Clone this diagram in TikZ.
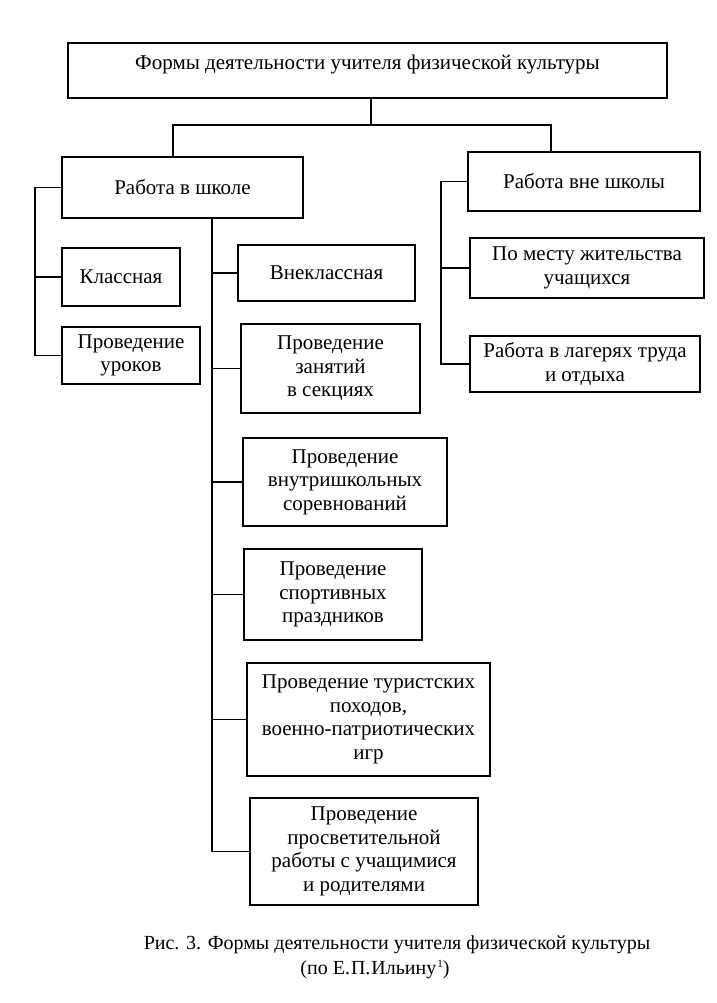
\documentclass[tikz,border=0pt]{standalone}
\usepackage{fontspec}
\setmainfont{Liberation Serif}
\begin{document}
\begin{tikzpicture}[x=1pt,y=-1pt,
  box/.style={draw,line width=2.2pt,inner sep=2pt,align=center,
    font=\fontsize{21}{23.5}\selectfont},
  conn/.style={line width=1.9pt},
  captext/.style={font=\fontsize{20}{23}\selectfont,inner sep=0pt}]
\useasboundingbox[fill=white] (0,0) rectangle (716,1003);
% boxes
\node[box,minimum width=599pt,minimum height=55pt] (top) at (367.5,70.5) {\raisebox{6pt}[\height][\depth]{Формы деятельности учителя физической культуры}};
\node[box,minimum width=241pt,minimum height=61pt] (school) at (182.5,187.5) {Работа в школе};
\node[box,minimum width=232pt,minimum height=59pt] (outside) at (584,181.5) {Работа вне школы};
\node[box,minimum width=118pt,minimum height=58pt] (klass) at (121,277) {Классная};
\node[box,minimum width=138pt,minimum height=57pt] (uroki) at (131,355.5) {Проведение\\уроков};
\node[box,minimum width=177pt,minimum height=56pt] (vneklass) at (326.5,273) {Внеклассная};
\node[box,minimum width=179pt,minimum height=89pt] (sekcii) at (330.5,368.5) {Проведение\\занятий\\в секциях};
\node[box,minimum width=204pt,minimum height=88pt] (sorevn) at (345,482) {Проведение\\внутришкольных\\соревнований};
\node[box,minimum width=178pt,minimum height=91pt] (prazd) at (333,594.5) {Проведение\\спортивных\\праздников};
\node[box,minimum width=243pt,minimum height=113pt] (turist) at (368.5,719.5) {Проведение туристских\\походов,\\военно-патриотических\\игр};
\node[box,minimum width=228pt,minimum height=107pt] (prosv) at (364,851.5) {Проведение\\просветительной\\работы с учащимися\\и родителями};
\node[box,minimum width=234pt,minimum height=60pt] (mesto) at (587,268) {По месту жительства\\учащихся};
\node[box,minimum width=230pt,minimum height=56pt] (lager) at (585,364) {Работа в лагерях труда\\и отдыха};
% helper coordinates
\coordinate (cA) at (371,125);
\coordinate (cL) at (173,125);
\coordinate (cR) at (551,125);
\coordinate (sL) at (35,0);
\coordinate (sM) at (212,0);
\coordinate (sR) at (441,0);
% connectors
\draw[conn] (cA |- top.south) -- (cA);
\draw[conn] (cL |- school.north) -- (cL) -- (cR) -- (cR |- outside.north);
\draw[conn] (school.west) -- (sL |- school.west) -- (sL |- uroki.west) -- (uroki.west);
\draw[conn] (sL |- klass.west) -- (klass.west);
\draw[conn] (sM |- school.south) -- (sM |- prosv.west) -- (prosv.west);
\draw[conn] (sM |- vneklass.west) -- (vneklass.west);
\draw[conn] (sM |- sekcii.west) -- (sekcii.west);
\draw[conn] (sM |- sorevn.west) -- (sorevn.west);
\draw[conn] (sM |- prazd.west) -- (prazd.west);
\draw[conn] (sM |- turist.west) -- (turist.west);
\draw[conn] (outside.west) -- (sR |- outside.west) -- (sR |- lager.west) -- (lager.west);
\draw[conn] (sR |- mesto.west) -- (mesto.west);
% caption
\node[captext] (cap1) at (397,945) {Рис. 3. Формы деятельности учителя физической культуры};
\node[captext] (cap2) at (375,970) {(по Е.\kern1pt П.\kern1pt Ильину\kern1pt\raisebox{7pt}{\fontsize{11}{11}\selectfont 1})};
\end{tikzpicture}
\end{document}
